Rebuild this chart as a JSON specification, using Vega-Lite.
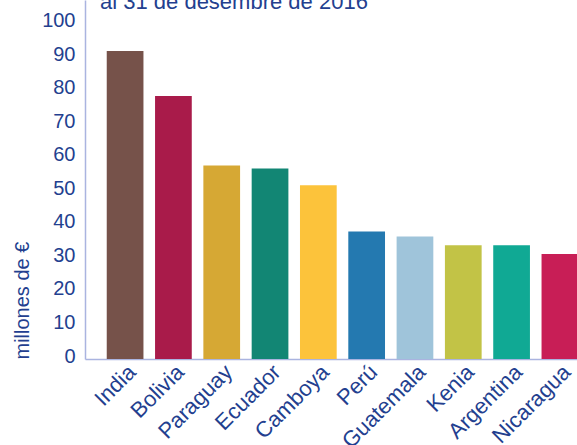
{
  "$schema": "https://vega.github.io/schema/vega-lite/v6.json",
  "autosize": "none",
  "width": 492,
  "height": 359,
  "padding": {"left": 85, "top": 0, "right": 0, "bottom": 86},
  "background": "white",
  "title": {
    "text": "al 31 de desembre de 2016",
    "anchor": "start",
    "frame": "group",
    "dx": 15,
    "offset": -30.5,
    "baseline": "alphabetic",
    "font": "Liberation Sans",
    "fontSize": 22,
    "fontWeight": "normal",
    "color": "#233f8f"
  },
  "data": {
    "values": [
      {"pais": "India", "valor": 91.8, "color": "#76524a"},
      {"pais": "Bolivia", "valor": 78.4, "color": "#a91b4a"},
      {"pais": "Paraguay", "valor": 57.7, "color": "#d6a834"},
      {"pais": "Ecuador", "valor": 56.8, "color": "#128674"},
      {"pais": "Camboya", "valor": 51.8, "color": "#fcc33b"},
      {"pais": "Perú", "valor": 38.0, "color": "#2479b0"},
      {"pais": "Guatemala", "valor": 36.5, "color": "#9fc4da"},
      {"pais": "Kenia", "valor": 33.9, "color": "#c2c346"},
      {"pais": "Argentina", "valor": 33.9, "color": "#10a994"},
      {"pais": "Nicaragua", "valor": 31.3, "color": "#c81e56"}
    ]
  },
  "mark": {"type": "bar"},
  "encoding": {
    "x": {
      "field": "pais",
      "type": "nominal",
      "sort": null,
      "scale": {"range": [0, 515], "paddingInner": 0.24, "paddingOuter": 0.45},
      "axis": {
        "title": null,
        "labelAngle": -45,
        "labelAlign": "right",
        "labelBaseline": "top",
        "labelPadding": 2,
        "ticks": false,
        "labelOverlap": false,
        "labelBound": false,
        "labelFont": "Liberation Sans",
        "labelFontSize": 22,
        "labelColor": "#233f8f",
        "domainColor": "#aab4e0",
        "domainWidth": 1.5
      }
    },
    "y": {
      "field": "valor",
      "type": "quantitative",
      "scale": {"domain": [0, 107], "nice": false},
      "axis": {
        "values": [0, 10, 20, 30, 40, 50, 60, 70, 80, 90, 100],
        "grid": false,
        "ticks": false,
        "labelPadding": 10,
        "labelFont": "Liberation Sans",
        "labelFontSize": 20,
        "labelColor": "#233f8f",
        "labelOffset": -3,
        "domainColor": "#aab4e0",
        "domainWidth": 1.5,
        "title": "millones de €",
        "titleAnchor": "start",
        "titleFont": "Liberation Sans",
        "titleFontSize": 20,
        "titleFontWeight": "normal",
        "titleColor": "#233f8f",
        "titlePadding": 9
      }
    },
    "color": {"field": "color", "type": "nominal", "scale": null, "legend": null}
  },
  "config": {"view": {"stroke": null}}
}
